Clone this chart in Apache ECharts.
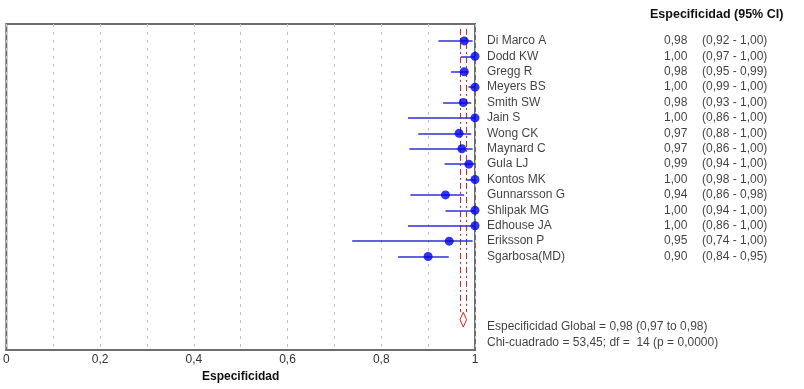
<!DOCTYPE html>
<html>
<head>
<meta charset="utf-8">
<script src="https://cdn.jsdelivr.net/npm/echarts@6/dist/echarts.min.js"></script>
<style>
  html, body { margin: 0; padding: 0; background: #fff; }
  #chart { width: 804px; height: 389px; }
</style>
</head>
<body>
<div id="chart"></div>
<script>
// estudios y valores
const studies = ['Di Marco A', 'Dodd KW', 'Gregg R', 'Meyers BS', 'Smith SW', 'Jain S', 'Wong CK',
  'Maynard C', 'Gula LJ', 'Kontos MK', 'Gunnarsson G', 'Shlipak MG', 'Edhouse JA', 'Eriksson P', 'Sgarbosa(MD)'];
const spec = [0.977, 1.0, 0.977, 1.0, 0.975, 1.0, 0.966, 0.972, 0.987, 1.0, 0.937, 1.0, 1.0, 0.945, 0.90];
const ciLow = [0.922, 0.97, 0.949, 0.986, 0.932, 0.857, 0.879, 0.86, 0.935, 0.98, 0.862, 0.937, 0.857, 0.738, 0.836];
const ciHigh = [0.995, 1.0, 0.986, 1.0, 0.992, 1.0, 0.992, 0.995, 1.0, 1.0, 0.977, 1.0, 1.0, 0.995, 0.944];
const specText = ['0,98', '1,00', '0,98', '1,00', '0,98', '1,00', '0,97', '0,97', '0,99', '1,00', '0,94', '1,00', '1,00', '0,95', '0,90'];
const ciText = ['(0,92 - 1,00)', '(0,97 - 1,00)', '(0,95 - 0,99)', '(0,99 - 1,00)', '(0,93 - 1,00)', '(0,86 - 1,00)',
  '(0,88 - 1,00)', '(0,86 - 1,00)', '(0,94 - 1,00)', '(0,98 - 1,00)', '(0,86 - 0,98)', '(0,94 - 1,00)',
  '(0,86 - 1,00)', '(0,74 - 1,00)', '(0,84 - 0,95)'];
// estimación global
const pooled = [0.975, 0.968, 0.982]; // estimación, IC inferior, IC superior
const pooledRow = 18.1;
const footer = ['Especificidad Global = 0,98 (0,97 to 0,98)', 'Chi-cuadrado = 53,45; df =  14 (p = 0,0000)'];
const xTicks = [0, 0.2, 0.4, 0.6, 0.8, 1];

const chart = echarts.init(document.getElementById('chart'));
const font = '"Liberation Sans", Arial, sans-serif';
const rows = studies.map((s, i) => i);

const option = {
  animation: false,
  textStyle: { fontFamily: font },
  grid: {
    left: 5, top: 24, right: 329, bottom: 39,
    show: true, borderColor: '#6e6e6e', borderWidth: 2
  },
  xAxis: {
    type: 'value', min: 0, max: 1, interval: 0.1,
    name: 'Especificidad', nameLocation: 'middle', nameGap: 17,
    nameTextStyle: { fontWeight: 'bold', fontSize: 12, color: '#111', fontFamily: font },
    axisLine: { show: true, onZero: false, lineStyle: { color: '#6e6e6e', width: 2 } },
    axisTick: { show: false },
    axisLabel: {
      margin: 4, color: '#333', fontSize: 12, fontFamily: font,
      formatter: v => {
        const r = Math.round(v * 10) / 10;
        return xTicks.some(t => Math.abs(t - r) < 1e-6) ? String(r).replace('.', ',') : '';
      }
    },
    splitLine: { show: true, lineStyle: { color: '#c4c4c4', type: [3, 5], width: 1 } }
  },
  yAxis: {
    type: 'value', inverse: true, min: -1.1, max: 20.07,
    show: false, splitLine: { show: false }
  },
  series: [
    // líneas rojas del IC global
    {
      type: 'lines', coordinateSystem: 'cartesian2d', silent: true, z: 2,
      lineStyle: { color: '#e02020', width: 1, type: [6, 3, 2, 3], opacity: 1 },
      data: [
        { coords: [[pooled[1], -0.78], [pooled[1], pooledRow - 0.5]] },
        { coords: [[pooled[2], -0.78], [pooled[2], pooledRow - 0.5]] }
      ]
    },
    // rombo global
    {
      type: 'custom', silent: true, z: 3,
      data: [[pooled[0], pooled[1], pooled[2], pooledRow]],
      renderItem: (params, api) => {
        const est = api.value(0), lo = api.value(1), hi = api.value(2), r = api.value(3);
        const pts = [
          api.coord([est, r - 0.48]), api.coord([hi, r]),
          api.coord([est, r + 0.48]), api.coord([lo, r])
        ];
        return {
          type: 'polygon', shape: { points: pts },
          style: { fill: 'none', stroke: '#e02020', lineWidth: 1 }
        };
      }
    },
    // intervalos de confianza
    {
      type: 'lines', coordinateSystem: 'cartesian2d', silent: true, z: 4,
      lineStyle: { color: '#2f2fd6', width: 1.6, opacity: 1 },
      data: rows.map(i => ({ coords: [[ciLow[i], i], [ciHigh[i], i]] }))
    },
    // estimaciones puntuales
    {
      type: 'scatter', symbol: 'circle', symbolSize: 9, z: 5, clip: false,
      itemStyle: { color: '#0000f0' },
      data: rows.map(i => [spec[i], i])
    },
    // etiquetas: estudios
    {
      type: 'scatter', symbolSize: 0, silent: true, clip: false,
      data: rows.map(i => [1, i]),
      label: {
        show: true, position: 'right', distance: 12, color: '#111', fontSize: 12, fontFamily: font,
        formatter: p => studies[p.dataIndex]
      }
    },
    // etiquetas: especificidad
    {
      type: 'scatter', symbolSize: 0, silent: true, clip: false,
      data: rows.map(i => [1, i]),
      label: {
        show: true, position: 'right', distance: 189, color: '#111', fontSize: 12, fontFamily: font,
        formatter: p => specText[p.dataIndex]
      }
    },
    // etiquetas: IC 95%
    {
      type: 'scatter', symbolSize: 0, silent: true, clip: false,
      data: rows.map(i => [1, i]),
      label: {
        show: true, position: 'right', distance: 227, color: '#111', fontSize: 12, fontFamily: font,
        formatter: p => ciText[p.dataIndex]
      }
    },
    // texto resumen
    {
      type: 'scatter', symbolSize: 0, silent: true, clip: false,
      data: [[1, 18.57], [1, 19.6]],
      label: {
        show: true, position: 'right', distance: 12, color: '#111', fontSize: 12, fontFamily: font,
        formatter: p => footer[p.dataIndex]
      }
    }
  ],
  graphic: [
    {
      type: 'text', left: 650, top: 8,
      style: { text: 'Especificidad (95% CI)', fontWeight: 'bold', fontSize: 12.5, fill: '#111', fontFamily: font }
    }
  ]
};

chart.setOption(option);
</script>
</body>
</html>
